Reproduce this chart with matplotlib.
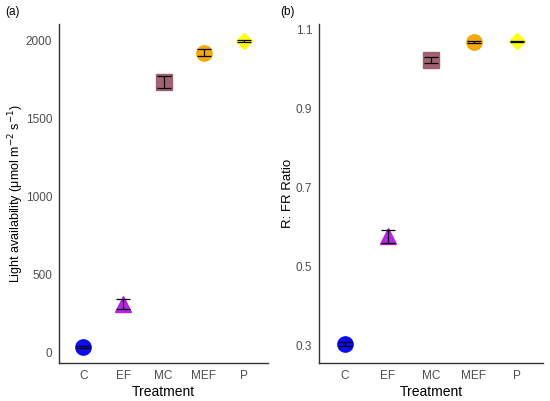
import numpy as np
import matplotlib.pyplot as plt

plt.rcParams['font.family'] = ['Liberation Sans', 'DejaVu Sans']

treatments = ["C", "EF", "MC", "MEF", "P"]
light_mean = [32, 308, 1731, 1919, 1996]
light_se = [6, 35, 40, 22, 5]
ratio_mean = [0.304, 0.576, 1.022, 1.068, 1.069]
ratio_se = [0.005, 0.016, 0.007, 0.003, 0.002]

colors = ["#0000EE", "#B21AE6", "#9C5B6B", "#F5A300", "#FFFF00"]
markers = ["o", "^", "s", "o", "D"]
sizes = [11, 12, 11, 11, 8]

fig = plt.figure(figsize=(5.5, 4.01), dpi=100)
ax1 = fig.add_axes([0.1073, 0.0948, 0.38, 0.8452])
ax2 = fig.add_axes([0.58, 0.0948, 0.407, 0.8452])

x = np.arange(len(treatments))


def draw(ax, means, ses):
    for i in range(len(treatments)):
        ax.plot(x[i], means[i], marker=markers[i], color=colors[i],
                markersize=sizes[i], linestyle="none", alpha=0.95, zorder=2)
        ax.errorbar(x[i], means[i], yerr=ses[i], color="black", capsize=5,
                    elinewidth=0.9, capthick=0.9, fmt="none", zorder=3)
    ax.set_xticks(x)
    ax.set_xticklabels(treatments)
    ax.set_xlim(-0.6, 4.6)
    for s in ["top", "right"]:
        ax.spines[s].set_visible(False)
    for s in ["left", "bottom"]:
        ax.spines[s].set_color("#333333")
        ax.spines[s].set_linewidth(1.0)
    ax.tick_params(length=0, labelsize=8.5, labelcolor="#4D4D4D", pad=5)
    ax.set_xlabel("Treatment", fontsize=10, labelpad=2)


draw(ax1, light_mean, light_se)
ax1.set_ylim(-70, 2103)
ax1.set_yticks([0, 500, 1000, 1500, 2000])
ax1.set_ylabel("Light availability (μmol m$^{-2}$ s$^{-1}$)", fontsize=9, labelpad=0)

draw(ax2, ratio_mean, ratio_se)
ax2.set_ylim(0.256, 1.113)
ax2.set_yticks([0.3, 0.5, 0.7, 0.9, 1.1])
ax2.set_yticklabels(["0.3", "0.5", "0.7", "0.9", "1.1"])
ax2.set_ylabel("R: FR Ratio", fontsize=9.5, labelpad=1)

fig.text(0.01, 0.97, "(a)", fontsize=8.5, va="center")
fig.text(0.51, 0.97, "(b)", fontsize=8.5, va="center")

fig.savefig("out.png", dpi=100)
